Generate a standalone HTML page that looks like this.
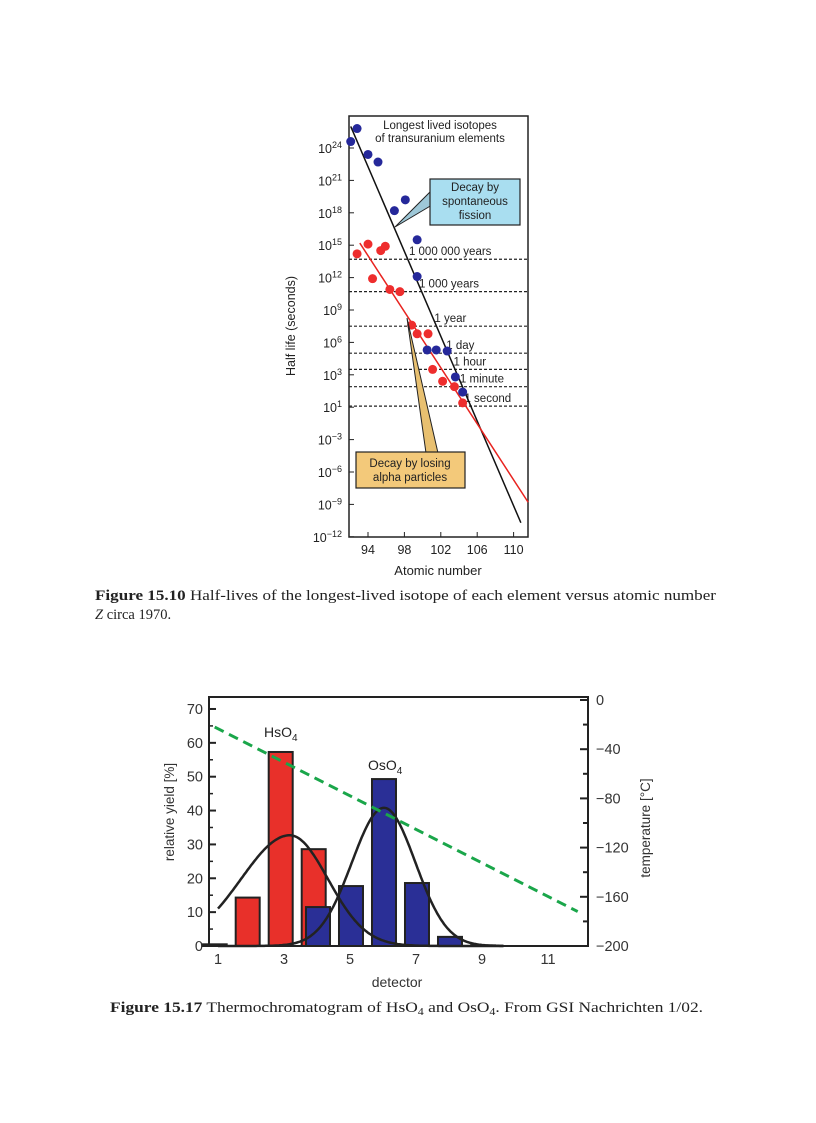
<!DOCTYPE html>
<html><head><meta charset="utf-8"><style>
html,body{margin:0;padding:0;background:#fff;}
svg{display:block;}
text{font-family:"Liberation Sans",sans-serif;}
.cap{font-family:"Liberation Serif",serif;font-size:14.5px;fill:#222;}
</style></head><body>
<svg id="page" width="816" height="1123" viewBox="0 0 816 1123" xmlns="http://www.w3.org/2000/svg">
<rect width="816" height="1123" fill="#fff"/>
<g id="c1">
  <rect x="349" y="116" width="179" height="421" fill="#fff" stroke="#222" stroke-width="1.5"/>
  <g id="c1dash"></g>
  <g id="c1lines"></g>
  <g id="c1pts"></g>
  <g id="c1ticks"></g>
  <text x="440" y="129" font-size="11.5" text-anchor="middle" fill="#222">Longest lived isotopes</text>
  <text x="440" y="142" font-size="11.5" text-anchor="middle" fill="#222">of transuranium elements</text>
  <polygon points="432,190 432,205 395,227" fill="#9ec8d8" stroke="#222" stroke-width="1"/>
  <rect x="430" y="179" width="90" height="46" fill="#a9def0" stroke="#222" stroke-width="1.2"/>
  <text x="475" y="191" font-size="11.5" text-anchor="middle" fill="#222">Decay by</text>
  <text x="475" y="205" font-size="11.5" text-anchor="middle" fill="#222">spontaneous</text>
  <text x="475" y="219" font-size="11.5" text-anchor="middle" fill="#222">fission</text>
  <polygon points="426,453 438,453 407,318" fill="#e8c070" stroke="#222" stroke-width="1"/>
  <rect x="356" y="452" width="109" height="36" fill="#f3c97a" stroke="#222" stroke-width="1.2"/>
  <text x="410" y="467" font-size="11.5" text-anchor="middle" fill="#222">Decay by losing</text>
  <text x="410" y="481" font-size="11.5" text-anchor="middle" fill="#222">alpha particles</text>
  <text transform="translate(295,326) rotate(-90)" font-size="12.5" text-anchor="middle" fill="#222">Half life (seconds)</text>
  <text x="438" y="575" font-size="13" text-anchor="middle" fill="#222">Atomic number</text>
</g>
<text class="cap" x="95" y="600" textLength="621" lengthAdjust="spacingAndGlyphs"><tspan font-weight="bold">Figure 15.10</tspan>    Half-lives of the longest-lived isotope of each element versus atomic number</text>
<text class="cap" x="95" y="619"><tspan font-style="italic">Z</tspan> circa 1970.</text>

<g id="c2">
  <g id="c2bars"></g>
  <g id="c2curves"></g>
  <g id="c2temp"></g>
  <rect x="209" y="697" width="379" height="249" fill="none" stroke="#222" stroke-width="2"/>
  <g id="c2ticks"></g>
  <text x="264" y="737" font-size="14" fill="#222">HsO<tspan font-size="10" dy="4">4</tspan></text>
  <text x="368" y="770" font-size="14" fill="#222">OsO<tspan font-size="10" dy="4">4</tspan></text>
  <text transform="translate(174,812) rotate(-90)" font-size="13.5" text-anchor="middle" fill="#333">relative yield [%]</text>
  <text transform="translate(650,828) rotate(-90)" font-size="13.5" text-anchor="middle" fill="#333">temperature [°C]</text>
  <text x="397" y="987" font-size="14" text-anchor="middle" fill="#333">detector</text>
</g>
<text class="cap" x="110" y="1012" textLength="593" lengthAdjust="spacingAndGlyphs"><tspan font-weight="bold">Figure 15.17</tspan>    Thermochromatogram of HsO<tspan font-size="10" dy="3">4</tspan><tspan dy="-3"> and OsO</tspan><tspan font-size="10" dy="3">4</tspan><tspan dy="-3">. From GSI Nachrichten 1/02.</tspan></text>
</svg>
<script>
const blueZ = [92.1,92.8,94,95.1,96.9,98.1,99.4,99.4,100.5,101.5,102.7,103.6,104.4];
const blueE = [24.6,25.8,23.4,22.7,18.2,19.2,15.5,12.1,5.3,5.3,5.2,2.8,1.4];
const redZ = [92.8,94,94.5,95.4,95.9,96.4,97.5,98.8,99.4,100.6,101.1,102.2,103.5,104.4];
const redE = [14.2,15.1,11.9,14.5,14.9,10.9,10.7,7.6,6.8,6.8,3.5,2.4,1.9,0.4];
const fissionLineZ = [92.1,110.8];
const fissionLineE = [26,-10.7];
const alphaLineZ = [93.1,111.6];
const alphaLineE = [15.2,-8.8];
const refE = [13.7,10.7,7.5,5.0,3.5,1.9,0.1];
const refLabels = ["1 000 000 years","1 000 years","1 year","1 day","1 hour","1 minute","1 second"];
const refLabelZ = [98.5,99.6,101.3,102.6,103.4,104.1,104.6];
const yTickE = [24,21,18,15,12,9,6,3,0,-3,-6,-9,-12];
const yTickExp = ["24","21","18","15","12","9","6","3","1","\u22123","\u22126","\u22129","\u221212"];
const xTicks = [94,98,102,106,110];

const redDet = [1,2,3,4];
const redYield = [0.5,14.3,57.3,28.6];
const blueDet = [4,5,6,7,8,9];
const blueYield = [11.5,17.7,49.3,18.6,2.7,0.2];
const hsPeak = [32.7,3.18,1.48,1.15];
const osPeak = [40.8,6.03,0.97,0.95];
const tempDet = [0.9,11.9];
const tempVal = [-22,-172];
const leftTicks = [0,10,20,30,40,50,60,70];
const rightTicks = [0,-40,-80,-120,-160,-200];
const detTicks = [1,3,5,7,9,11];

const NS="http://www.w3.org/2000/svg";
function mk(parent,tag,attrs){const e=document.createElementNS(NS,tag);for(const k in attrs)e.setAttribute(k,attrs[k]);parent.appendChild(e);return e;}

const x1=z=>368+(z-94)*9.1;
const y1=e=>148+(24-e)*10.8;
const g1d=document.getElementById('c1dash');
refE.forEach((e,i)=>{
  const l=mk(g1d,'line',{x1:349,x2:528,y1:y1(e),y2:y1(e),stroke:'#222','stroke-width':1.2,'stroke-dasharray':'3,2'});
  
  
  const t=mk(g1d,'text',{x:x1(refLabelZ[i]),y:y1(e)-4,'font-size':11.5,fill:'#222'});
  
  
  t.textContent=refLabels[i];
});
const g1l=document.getElementById('c1lines');
const fl=mk(g1l,'line',{x1:x1(fissionLineZ[0]),y1:y1(fissionLineE[0]),x2:x1(fissionLineZ[1]),y2:y1(fissionLineE[1]),stroke:'#111','stroke-width':1.5});


const al=mk(g1l,'line',{x1:x1(alphaLineZ[0]),y1:y1(alphaLineE[0]),x2:x1(alphaLineZ[1]),y2:y1(alphaLineE[1]),stroke:'#e8231f','stroke-width':1.5});


const g1p=document.getElementById('c1pts');
blueZ.forEach((z,i)=>{const c=mk(g1p,'circle',{cx:x1(z),cy:y1(blueE[i]),r:4.5,fill:'#25289a'});
  
  });
redZ.forEach((z,i)=>{const c=mk(g1p,'circle',{cx:x1(z),cy:y1(redE[i]),r:4.5,fill:'#ee2d2d'});
  
  });
const g1t=document.getElementById('c1ticks');
yTickE.forEach((e,i)=>{
  mk(g1t,'line',{x1:349,x2:354,y1:y1(e),y2:y1(e),stroke:'#222','stroke-width':1});
  const t=mk(g1t,'text',{x:342,y:y1(e)+5,'font-size':12.5,'text-anchor':'end',fill:'#222'});
  
  
  t.innerHTML='10<tspan font-size="9" dy="-5">'+yTickExp[i]+'</tspan>';
});
xTicks.forEach(z=>{
  mk(g1t,'line',{x1:x1(z),x2:x1(z),y1:537,y2:532,stroke:'#222','stroke-width':1});
  const t=mk(g1t,'text',{x:x1(z),y:554,'font-size':12.5,'text-anchor':'middle',fill:'#222'});
  
  
  t.textContent=z;
});

const x2=d=>218+(d-1)*33;
const y2=v=>946-v*3.386;
const yT=t=>700-t*1.23;
const bw=24;
const g2b=document.getElementById('c2bars');
redDet.forEach((d,i)=>{const r=mk(g2b,'rect',{x:x2(d)-0.1*33-bw/2,y:y2(redYield[i]),width:bw,height:946-y2(redYield[i]),fill:'#e8302a',stroke:'#222','stroke-width':2});
  
  });
blueDet.forEach((d,i)=>{const r=mk(g2b,'rect',{x:x2(d)+0.03*33-bw/2,y:y2(blueYield[i]),width:bw,height:946-y2(blueYield[i]),fill:'#2a2f96',stroke:'#222','stroke-width':2});
  
  });
function gauss(p,d){const s=d<p[1]?p[2]:p[3];return p[0]*Math.exp(-(d-p[1])*(d-p[1])/(2*s*s));}
const g2c=document.getElementById('c2curves');
[hsPeak,osPeak].forEach((p,k)=>{
  let pts=[];for(let d=1;d<=9.7;d+=0.05)pts.push(x2(d).toFixed(1)+','+y2(gauss(p,d)).toFixed(1));
  const pl=mk(g2c,'polyline',{points:pts.join(' '),fill:'none',stroke:'#222','stroke-width':2.5});
  
  
});
const tl=mk(document.getElementById('c2temp'),'line',{x1:x2(tempDet[0]),y1:yT(tempVal[0]),x2:x2(tempDet[1]),y2:yT(tempVal[1]),stroke:'#1aa64a','stroke-width':3,'stroke-dasharray':'10,6'});


const g2t=document.getElementById('c2ticks');
leftTicks.forEach(v=>{
  mk(g2t,'line',{x1:209,x2:216,y1:y2(v),y2:y2(v),stroke:'#222','stroke-width':2});
  if(v<70)mk(g2t,'line',{x1:209,x2:213,y1:y2(v+5),y2:y2(v+5),stroke:'#222','stroke-width':1.5});
  const t=mk(g2t,'text',{x:203,y:y2(v)+5,'font-size':14.5,'text-anchor':'end',fill:'#333'});
  
  
  t.textContent=v;
});
for(let t=0;t>=-200;t-=20){mk(g2t,'line',{x1:588,x2:t%40===0?580:583,y1:yT(t),y2:yT(t),stroke:'#222','stroke-width':2});}
rightTicks.forEach(v=>{
  const t=mk(g2t,'text',{x:596,y:yT(v)+5,'font-size':14.5,fill:'#333'});
  
  
  t.textContent=v===0?'0':'\u2212'+(-v);
});
detTicks.forEach(d=>{
  const t=mk(g2t,'text',{x:x2(d),y:964,'font-size':14.5,'text-anchor':'middle',fill:'#333'});
  
  
  t.textContent=d;
});
</script>
</body></html>
